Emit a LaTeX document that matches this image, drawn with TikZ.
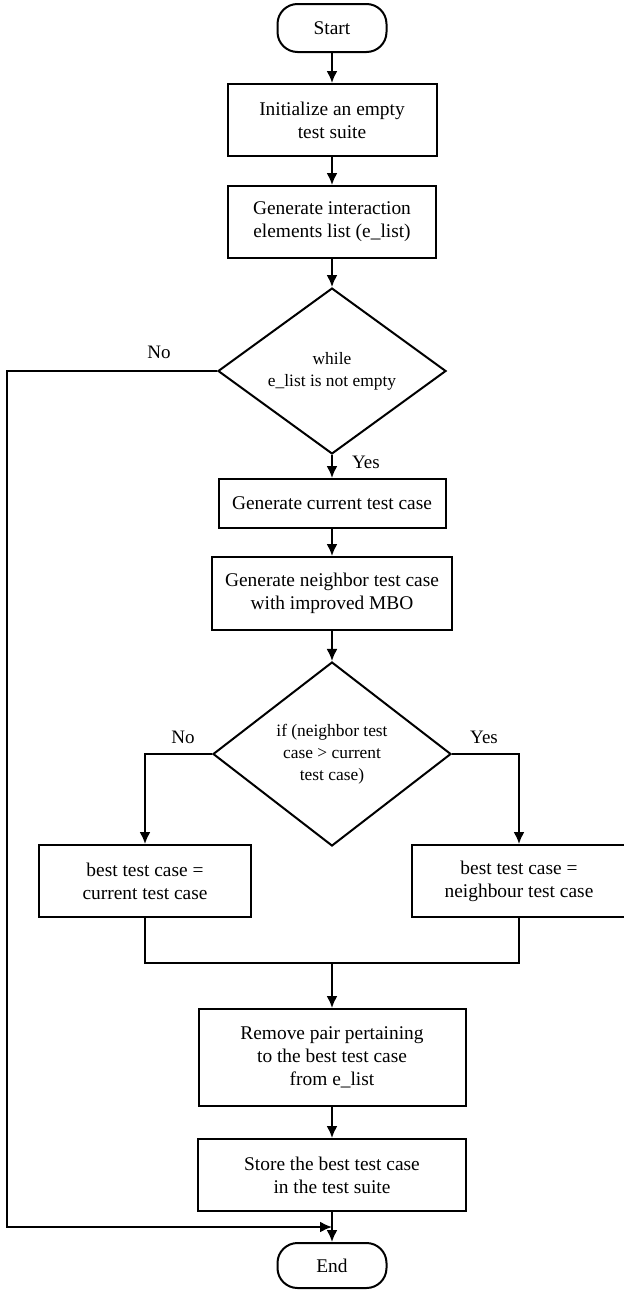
\documentclass[tikz,border=0pt]{standalone}
\usepackage{fontspec}
\setmainfont{Liberation Serif}
\usetikzlibrary{shapes.geometric,arrows.meta}

\tikzset{
  box/.style={draw, line width=1pt, align=center, inner sep=2pt,
    font=\fontsize{9.7}{11.5}\selectfont},
  term/.style={box, rounded corners=10pt},
  decision/.style={draw, diamond, line width=1pt, align=center, inner sep=0pt,
    font=\fontsize{8.7}{11}\selectfont},
  arr/.style={line width=1pt, -{Latex[length=6pt,width=5.5pt]}},
  link/.style={line width=1pt},
  lbl/.style={font=\fontsize{9.5}{11}\selectfont}
}

\begin{document}
\begin{tikzpicture}[x=0.5pt,y=-0.5pt]
      \useasboundingbox (0,0) rectangle (624,1290);

      \node[term, minimum width=54.5pt, minimum height=24pt] (start) at (332,28) {Start};
      \node[box, minimum width=104.5pt, minimum height=36pt] (init) at (332,120) {Initialize an empty\\test suite};
      \node[box, minimum width=104pt, minimum height=36pt] (genlist) at (332,222) {Generate interaction\\elements list (e\_list)};
      \node[decision, minimum width=114pt, minimum height=82pt] (while) at (332,371) {while\\e\_list is not empty};
      \node[box, minimum width=113.5pt, minimum height=24.5pt] (cur) at (332,503.5) {Generate current test case};
      \node[box, minimum width=120pt, minimum height=36.5pt] (nbr) at (332,593.5) {Generate neighbor test case\\with improved MBO};
      \node[decision, minimum width=119pt, minimum height=92pt] (ifnode) at (332,754) {if (neighbor test\\case > current\\test case)};
      \node[box, minimum width=106pt, minimum height=36pt] (bestcur) at (145,881) {best test case =\\current test case};
      \node[box, minimum width=107pt, minimum height=36pt] (bestnbr) at (519,881) {best test case =\\neighbour test case};
      \node[box, minimum width=133.5pt, minimum height=48.5pt] (remove) at (332,1057.5) {Remove pair pertaining\\to the best test case\\from e\_list};
      \node[box, minimum width=134pt, minimum height=36pt] (store) at (332,1175) {Store the best test case\\in the test suite};
      \node[term, minimum width=54.5pt, minimum height=22.5pt] (end) at (332,1265.5) {End};

      \coordinate (rail) at (7,371);
      \coordinate (loopin) at (332,1227);
      \coordinate (merge) at (332,963);

      % main column
      \draw[arr] (start) -- (init);
      \draw[arr] (init) -- (genlist);
      \draw[arr] (genlist) -- (while);
      \draw[arr] (while) -- (cur);
      \draw[arr] (cur) -- (nbr);
      \draw[arr] (nbr) -- (ifnode);

      % branches
      \draw[arr] (ifnode.west) -| (bestcur.north);
      \draw[arr] (ifnode.east) -| (bestnbr.north);
      \draw[link] (bestcur.south) |- (merge) -| (bestnbr.south);
      \draw[arr] (merge) -- (remove);
      \draw[arr] (remove) -- (store);
      \draw[arr] (store) -- (end);

      % exit of the loop
      \draw[arr] (while.west) -- (rail) |- (loopin);

      \node[lbl] (no1) at (159,352) {No};
      \node[lbl] (yes1) at (366,462) {Yes};
      \node[lbl] (no2) at (183,737) {No};
      \node[lbl] (yes2) at (484,737) {Yes};
\end{tikzpicture}
\end{document}
